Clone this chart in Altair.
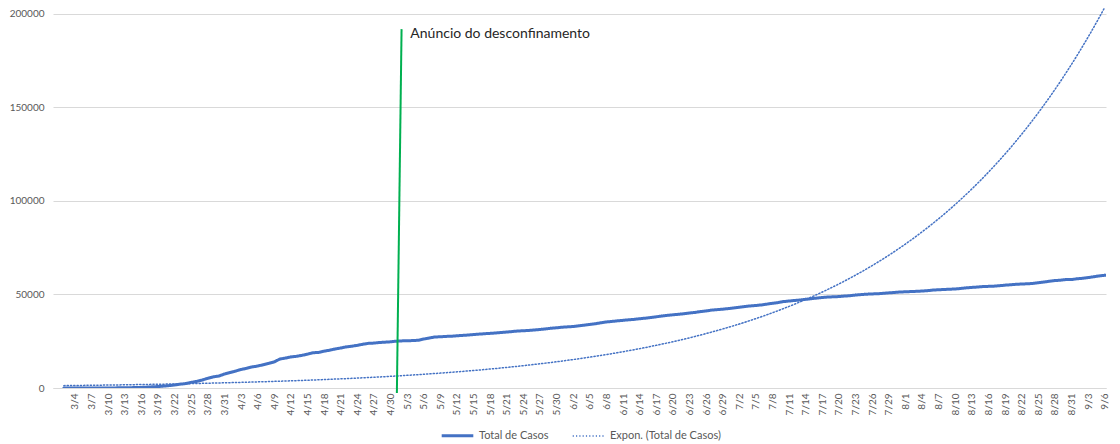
import altair as alt
import pandas as pd

# ---- data: Total de Casos (Portugal), daily from 2020-03-02 ----
start_date = "2020-03-02"
casos_marco = [2, 4, 6, 9, 13, 21, 30, 39, 41, 59, 78, 112, 169, 245, 331, 448, 642, 785, 1020, 1280,
               1600, 2060, 2362, 2995, 3544, 4268, 5170, 5962, 6408, 7443]
casos_abril = [8251, 9034, 9886, 10524, 11278, 11730, 12442, 13141, 13956, 15472,
               15987, 16585, 16934, 17448, 18091, 18841, 19022, 19685, 20206, 20863,
               21379, 21982, 22353, 22797, 23392, 23864, 24027, 24322, 24505, 24692]
casos_maio = [25045, 25190, 25282, 25351, 25524, 26182, 26715, 27268, 27406, 27581,
              27679, 27913, 28132, 28319, 28583, 28810, 29036, 29209, 29432, 29660,
              29912, 30200, 30471, 30623, 30788, 31007, 31292, 31596, 31946, 32203, 32500]
casos_junho = [32700, 32895, 33261, 33592, 33969, 34351, 34885, 35306, 35600, 35910,
               36180, 36463, 36690, 37036, 37336, 37672, 38089, 38464, 38841, 39133,
               39392, 39737, 40104, 40415, 40866, 41189, 41646, 41912, 42141, 42454]
casos_julho = [42782, 43156, 43569, 43897, 44129, 44416, 44859, 45277, 45679, 46221,
               46512, 46818, 47051, 47426, 47765, 48077, 48390, 48636, 48771, 48898,
               49150, 49379, 49692, 49955, 50164, 50299, 50410, 50613, 50868, 51072, 51310]
casos_agosto = [51463, 51569, 51681, 51848, 52061, 52351, 52537, 52668, 52825, 52945,
                53223, 53548, 53783, 53981, 54234, 54354, 54448, 54701, 54992, 55211,
                55452, 55597, 55720, 55912, 56274, 56673, 57074, 57448, 57633, 57990, 58012]
casos_setembro = [58396, 58633, 59051, 59457, 59943, 60258, 60507]

total_casos = casos_marco + casos_abril + casos_maio + casos_junho + casos_julho + casos_agosto + casos_setembro
series_names = ["Total de Casos", "Expon. (Total de Casos)"]

# annotation (green line: announcement of de-confinement)
anuncio_label = "Anúncio do desconfinamento"
anuncio_x = ["2020-05-02T00:00:00Z", "2020-05-01T03:40:00Z"]
anuncio_y = [191900, -2700]
anuncio_text_x = "2020-05-03T14:00:00Z"
anuncio_text_y = 189300

# axis ticks
tick_dates = pd.date_range("2020-03-04", "2020-09-06", freq="3D")
y_ticks = [0, 50000, 100000, 150000, 200000]

# ---- build ----
dates = pd.date_range(start_date, periods=len(total_casos), freq="D").strftime("%Y-%m-%d")
df = pd.DataFrame({"date": list(dates), "cases": total_casos})

BLUE = "#4472C4"
GREEN = "#00B050"
LABEL_COLOR = "#595959"
GRID = "#D9D9D9"
FONT = "Lato"

x_scale = alt.Scale(
    type="utc",
    domain=[alt.DateTime(year=2020, month=2, date=29, hours=1, utc=True),
            alt.DateTime(year=2020, month=9, date=6, hours=5, minutes=40, utc=True)],
)
y_scale = alt.Scale(domain=[0, 203200], nice=False, zero=False)

x_axis = alt.Axis(
    values=[alt.DateTime(year=d.year, month=d.month, date=d.day, utc=True) for d in tick_dates],
    format="%-m/%-d", labelAngle=270, labelFontSize=10, labelColor=LABEL_COLOR, labelFont=FONT,
    labelPadding=5, ticks=False, grid=False, domainColor=GRID, domainWidth=1, title=None,
    labelOverlap=False, labelBound=False, labelFlush=False, labelSeparation=0,
)
y_axis = alt.Axis(
    values=y_ticks, format="d", labelFontSize=10, labelColor=LABEL_COLOR, labelFont=FONT,
    labelPadding=9, ticks=False, domain=False, grid=True, gridColor=GRID, gridWidth=1, title=None,
    labelOverlap=False,
)

lines = alt.Chart(df).transform_calculate(
    t="(time(datum.date) - time('2020-03-02')) / 86400000",
    ly="log(datum.cases)",
).transform_calculate(
    tly="datum.t * datum.ly",
    tt="datum.t * datum.t",
).transform_joinaggregate(
    m_t="mean(t)", m_ly="mean(ly)", m_tly="mean(tly)", m_tt="mean(tt)",
).transform_calculate(
    slope="(datum.m_tly - datum.m_t * datum.m_ly) / (datum.m_tt - datum.m_t * datum.m_t)",
).transform_calculate(
    trend="exp(datum.m_ly + datum.slope * (datum.t - datum.m_t))",
).transform_fold(
    ["cases", "trend"], as_=["key", "value"]
).transform_calculate(
    serie="datum.key == 'cases' ? 'Total de Casos' : 'Expon. (Total de Casos)'"
).mark_line(clip=True, strokeCap="round", strokeJoin="round").encode(
    x=alt.X("date:T", scale=x_scale, axis=x_axis),
    y=alt.Y("value:Q", scale=y_scale, axis=y_axis),
    color=alt.Color("serie:N", scale=alt.Scale(domain=series_names, range=[BLUE, BLUE]),
                    legend=alt.Legend(orient="none", legendX=387, legendY=410, direction="horizontal",
                                      title=None, symbolType="stroke", symbolSize=1000,
                                      labelFontSize=11, labelColor=LABEL_COLOR, labelFont=FONT,
                                      columnPadding=20, labelOffset=4, columns=2)),
    strokeDash=alt.StrokeDash("serie:N", scale=alt.Scale(domain=series_names, range=[[1, 0], [1.2, 2.1]])),
    strokeWidth=alt.StrokeWidth("serie:N", scale=alt.Scale(domain=series_names, range=[3, 1.5])),
)

green_df = pd.DataFrame({"x": [anuncio_x[0]], "x2": [anuncio_x[1]], "y": [anuncio_y[0]], "y2": [anuncio_y[1]]})
green = alt.Chart(green_df).mark_rule(color=GREEN, strokeWidth=2).encode(
    x=alt.X("x:T", axis=x_axis), x2="x2:T", y=alt.Y("y:Q", axis=y_axis), y2="y2:Q"
)

text_df = pd.DataFrame({"x": [anuncio_text_x], "y": [anuncio_text_y], "label": [anuncio_label]})
text = alt.Chart(text_df).mark_text(align="left", baseline="middle", fontSize=14, font=FONT,
                                    color="#262626").encode(
    x=alt.X("x:T", axis=x_axis), y=alt.Y("y:Q", axis=y_axis), text="label:N"
)

chart = alt.layer(lines, green, text).properties(
    width=1053, height=380,
    autosize=alt.AutoSizeParams(type="none"),
    padding={"left": 45, "top": 0, "right": 6, "bottom": 56},
).configure_view(stroke=None).configure_axis(labelOverlap=False)

chart.save("out.html", embed_options={"renderer": "svg", "actions": False})
